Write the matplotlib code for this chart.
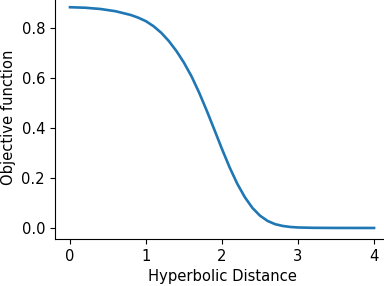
import matplotlib
matplotlib.use("Agg")
import matplotlib.pyplot as plt

distance = [0.0, 0.2, 0.4, 0.6, 0.8, 0.9, 1.0, 1.1, 1.2, 1.3, 1.4, 1.5, 1.6, 1.7,
            1.8, 1.9, 2.0, 2.1, 2.2, 2.3, 2.4, 2.5, 2.6, 2.7, 2.8, 2.9, 3.0, 3.2,
            3.5, 4.0]
objective = [0.882, 0.880, 0.875, 0.866, 0.851, 0.840, 0.826, 0.806, 0.780, 0.747,
             0.707, 0.660, 0.605, 0.540, 0.468, 0.392, 0.315, 0.242, 0.177, 0.123,
             0.080, 0.049, 0.028, 0.015, 0.008, 0.004, 0.002, 0.0006, 0.0001, 0.0]
xticks = [0, 1, 2, 3, 4]
yticks = [0.0, 0.2, 0.4, 0.6, 0.8]

plt.rcParams["font.size"] = 10.6
fig = plt.figure(figsize=(3.84, 2.86), dpi=100)
ax = fig.add_axes([0.1427, 0.1643, 0.871, 0.849])
ax.plot(distance, objective, color="#1f77b4", lw=1.9)
ax.set_xticks(xticks)
ax.set_yticks(yticks)
ax.set_xlabel("Hyperbolic Distance")
ax.set_ylabel("Objective function")
ax.spines["top"].set_visible(False)
ax.spines["right"].set_visible(False)
fig.savefig("out.png", dpi=100)
